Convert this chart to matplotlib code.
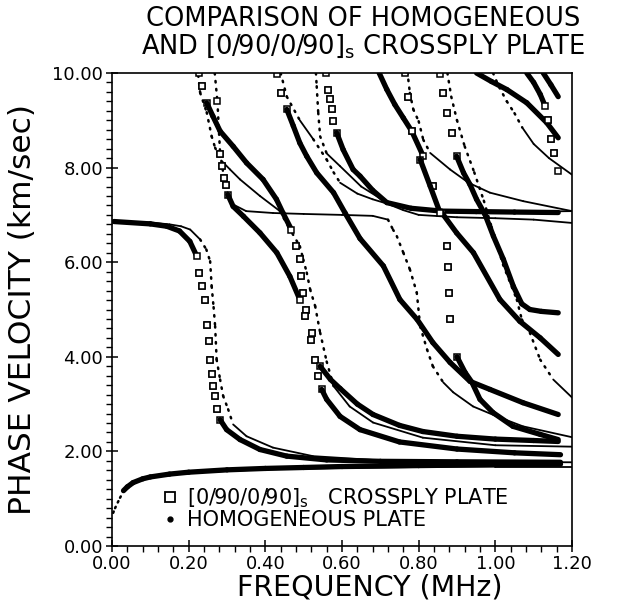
import matplotlib
matplotlib.use("Agg")
import matplotlib.pyplot as plt
from matplotlib.lines import Line2D
from matplotlib.ticker import MultipleLocator, FormatStrFormatter

# [0/90/0/90]s crossply plate (thick curves)
cp1_f = [0.03, 0.04, 0.055, 0.08, 0.1, 0.15, 0.2, 0.3, 0.4, 0.5, 0.6, 0.8, 1.0, 1.17]
cp1_v = [1.17, 1.25, 1.34, 1.42, 1.46, 1.52, 1.56, 1.61, 1.64, 1.66, 1.68, 1.70, 1.72, 1.73]
cp2_f = [0.005, 0.1, 0.143, 0.176, 0.203, 0.221, 0.228, 0.234, 0.243, 0.249, 0.253, 0.256, 0.26,
         0.264, 0.269, 0.273, 0.282, 0.299, 0.334, 0.386, 0.456, 0.56, 0.7, 0.9, 1.17]
cp2_v = [6.86, 6.81, 6.76, 6.66, 6.44, 6.13, 5.78, 5.49, 5.2, 4.68, 4.33, 3.94, 3.63,
         3.38, 3.17, 2.89, 2.67, 2.46, 2.25, 2.04, 1.90, 1.82, 1.79, 1.78, 1.77]
cp3_f = [0.228, 0.234, 0.247, 0.263, 0.282, 0.316, 0.351, 0.394, 0.429, 0.446, 0.468, 0.481, 0.49,
         0.494, 0.499, 0.507, 0.521, 0.53, 0.538, 0.547, 0.56, 0.595, 0.647, 0.75, 0.9, 1.05, 1.17]
cp3_v = [10.0, 9.72, 9.37, 9.09, 8.77, 8.45, 8.10, 7.75, 7.33, 7.04, 6.69, 6.34, 6.06,
         5.70, 5.35, 5.0, 4.51, 3.94, 3.59, 3.31, 3.10, 2.74, 2.46, 2.2, 2.05, 1.97, 1.93]
cp4_f = [0.275, 0.282, 0.286, 0.292, 0.297, 0.302, 0.316, 0.343, 0.386, 0.43, 0.464, 0.49, 0.504,
         0.52, 0.543, 0.57, 0.595, 0.64, 0.681, 0.75, 0.811, 0.9, 1.0, 1.1, 1.164]
cp4_v = [9.4, 8.28, 8.03, 7.78, 7.64, 7.43, 7.18, 6.97, 6.62, 6.2, 5.7, 5.21, 4.86,
         4.35, 3.80, 3.52, 3.33, 3.0, 2.78, 2.55, 2.42, 2.32, 2.26, 2.23, 2.21]
cp5_f = [0.43, 0.442, 0.456, 0.473, 0.49, 0.508, 0.534, 0.578, 0.608, 0.647, 0.708, 0.751,
         0.796, 0.837, 0.882, 0.934, 0.986, 1.072, 1.164]
cp5_v = [9.97, 9.58, 9.23, 8.88, 8.52, 8.24, 7.89, 7.47, 7.04, 6.5, 5.92, 5.21,
         4.79, 4.30, 3.88, 3.48, 3.31, 3.03, 2.78]
cp6_f = [0.558, 0.564, 0.569, 0.573, 0.577, 0.586, 0.603, 0.629, 0.647, 0.68, 0.717, 0.78,
         0.86, 0.95, 1.05, 1.164]
cp6_v = [10.0, 9.65, 9.44, 9.23, 8.98, 8.74, 8.38, 7.96, 7.82, 7.52, 7.26, 7.14,
         7.08, 7.07, 7.06, 7.05]
cp7_f = [0.697, 0.717, 0.738, 0.76, 0.782, 0.812, 0.838, 0.86, 0.899, 0.943, 1.012, 1.064,
         1.117, 1.164]
cp7_v = [10.0, 9.65, 9.33, 9.05, 8.77, 8.24, 7.61, 7.05, 6.62, 6.2, 5.21, 4.75, 4.4, 4.05]
cp8_f = [0.765, 0.772, 0.782, 0.804, 0.83, 0.856, 0.873, 0.876, 0.879, 0.882, 0.9, 0.921, 0.939,
         0.96, 0.994, 1.046, 1.117, 1.164]
cp8_v = [10.0, 9.5, 8.77, 8.17, 7.61, 7.04, 6.34, 5.9, 5.35, 4.8, 4.0, 3.67, 3.46,
         3.1, 2.82, 2.53, 2.36, 2.25]
cp9_f = [0.856, 0.864, 0.873, 0.886, 0.899, 0.917, 0.934, 0.951, 0.973, 0.995, 1.021, 1.047,
         1.069, 1.09, 1.12, 1.164]
cp9_v = [9.97, 9.58, 9.16, 8.74, 8.24, 7.89, 7.64, 7.33, 7.01, 6.55, 6.06, 5.49,
         5.12, 5.0, 4.96, 4.93]
cp10_f = [0.951, 0.99, 1.03, 1.082, 1.134, 1.164]
cp10_v = [10.0, 9.82, 9.65, 9.37, 8.95, 8.63]
cp11_f = [1.082, 1.1, 1.117, 1.13, 1.138, 1.145, 1.152, 1.164]
cp11_v = [10.0, 9.8, 9.55, 9.3, 9.0, 8.6, 8.3, 7.92]
cp12_f = [1.125, 1.145, 1.164]
cp12_v = [10.0, 9.75, 9.5]

# homogeneous plate (thin curves)
h1_f = [0.003, 0.008, 0.015, 0.021, 0.029, 0.04, 0.055, 0.1, 0.2, 0.4, 0.6, 0.8, 1.0, 1.2]
h1_v = [0.7, 0.8, 0.92, 1.02, 1.14, 1.25, 1.33, 1.45, 1.55, 1.62, 1.65, 1.67, 1.68, 1.68]
h2_f = [0.005, 0.1, 0.15, 0.18, 0.204, 0.23, 0.246, 0.256, 0.26, 0.265, 0.269, 0.273, 0.282,
        0.29, 0.303, 0.316, 0.351, 0.42, 0.524, 0.7, 0.9, 1.2]
h2_v = [6.86, 6.84, 6.8, 6.76, 6.69, 6.48, 6.27, 6.02, 5.49, 5.05, 4.65, 3.94, 3.52,
        3.17, 2.89, 2.57, 2.32, 2.08, 1.90, 1.81, 1.78, 1.77]
h3_f = [0.225, 0.23, 0.247, 0.26, 0.269, 0.285, 0.308, 0.334, 0.386, 0.438, 0.46, 0.49, 0.499,
        0.508, 0.517, 0.53, 0.543, 0.56, 0.578, 0.62, 0.681, 0.811, 1.0, 1.2]
h3_v = [9.95, 9.58, 9.17, 8.66, 8.42, 8.15, 7.96, 7.75, 7.40, 7.08, 6.75, 6.34, 6.06,
        5.78, 5.42, 5.07, 4.51, 3.9, 3.38, 2.95, 2.61, 2.29, 2.13, 2.10]
h4_f = [0.268, 0.275, 0.282, 0.292, 0.302, 0.316, 0.35, 0.42, 0.5, 0.6, 0.68, 0.72, 0.733,
        0.743, 0.76, 0.777, 0.795, 0.804, 0.822, 0.837, 0.864, 0.89, 0.942, 1.004, 1.072, 1.2]
h4_v = [10.0, 9.4, 8.3, 7.8, 7.45, 7.22, 7.08, 7.04, 7.02, 7.0, 6.98, 6.9, 6.69,
        6.55, 6.2, 5.85, 5.36, 4.64, 4.15, 3.8, 3.46, 3.25, 2.95, 2.74, 2.53, 2.3]
h5_f = [0.44, 0.456, 0.49, 0.525, 0.56, 0.578, 0.595, 0.64, 0.68, 0.717, 0.76, 0.8, 0.9, 1.0,
        1.1, 1.2]
h5_v = [10.0, 9.5, 9.0, 8.6, 8.17, 7.9, 7.68, 7.45, 7.33, 7.24, 7.1, 7.0, 6.95, 6.93,
        6.9, 6.83]
h6_f = [0.532, 0.534, 0.538, 0.543, 0.56, 0.595, 0.65, 0.717, 0.8, 0.9, 1.0, 1.1, 1.2]
h6_v = [10.0, 9.72, 9.16, 8.66, 8.3, 8.03, 7.6, 7.26, 7.12, 7.08, 7.07, 7.07, 7.08]
h7_f = [0.77, 0.773, 0.777, 0.786, 0.8, 0.812, 0.83, 0.882, 0.93, 0.986, 1.073, 1.2]
h7_v = [10.0, 9.86, 9.58, 9.23, 8.98, 8.59, 8.31, 7.96, 7.68, 7.47, 7.29, 7.08]
h8_f = [0.875, 0.885, 0.9, 0.92, 0.945, 0.97, 0.99, 1.02, 1.056, 1.069, 1.09, 1.117, 1.151, 1.2]
h8_v = [10.0, 9.5, 9.0, 8.45, 7.9, 7.3, 6.75, 5.95, 5.21, 4.79, 4.51, 3.94, 3.52, 3.14]
h9_f = [0.994, 1.01, 1.03, 1.05, 1.07, 1.1, 1.14, 1.2]
h9_v = [10.0, 9.7, 9.4, 9.15, 8.85, 8.5, 8.2, 7.85]

crossply = [(cp1_f, cp1_v), (cp2_f, cp2_v), (cp3_f, cp3_v), (cp4_f, cp4_v), (cp5_f, cp5_v),
            (cp6_f, cp6_v), (cp7_f, cp7_v), (cp8_f, cp8_v), (cp9_f, cp9_v), (cp10_f, cp10_v),
            (cp11_f, cp11_v), (cp12_f, cp12_v)]
homog = [(h1_f, h1_v), (h2_f, h2_v), (h3_f, h3_v), (h4_f, h4_v), (h5_f, h5_v),
         (h6_f, h6_v), (h7_f, h7_v), (h8_f, h8_v), (h9_f, h9_v)]


def draw(ax, f, v, steep, solid_kw, steep_kw):
    # shallow stretches look like solid lines, steep ones show the separate marks
    for i in range(len(f) - 1):
        slope = abs((v[i + 1] - v[i]) / (f[i + 1] - f[i]))
        kw = steep_kw if slope > steep else solid_kw
        ax.plot(f[i:i + 2], v[i:i + 2], **kw)


fig = plt.figure(figsize=(6.2, 6.03), dpi=100)
ax = fig.add_axes([112 / 620, 57 / 603, 460 / 620, 473 / 603])

h_solid = dict(color="black", lw=1.3, solid_capstyle="round")
h_dots = dict(color="black", lw=1.8, linestyle=(0, (0.6, 2.6)), dash_capstyle="round")
c_solid = dict(color="black", lw=3.8, solid_capstyle="round")
c_squares = dict(color="black", ls="none", marker="s", ms=4.0, mfc="white", mec="black", mew=1.1)

for f, v in homog:
    draw(ax, f, v, 12, h_solid, h_dots)
for f, v in crossply:
    draw(ax, f, v, 22, c_solid, c_squares)

ax.set_xlim(0, 1.2)
ax.set_ylim(0, 10)
ax.xaxis.set_major_locator(MultipleLocator(0.2))
ax.xaxis.set_minor_locator(MultipleLocator(0.04))
ax.yaxis.set_major_locator(MultipleLocator(2))
ax.yaxis.set_minor_locator(MultipleLocator(0.2))
ax.xaxis.set_major_formatter(FormatStrFormatter("%.2f"))
ax.yaxis.set_major_formatter(FormatStrFormatter("%.2f"))
ax.tick_params(which="major", direction="inout", length=9, width=1.1, labelsize=13, pad=2)
ax.tick_params(which="minor", direction="out", length=4, width=1.0)
for s in ax.spines.values():
    s.set_linewidth(1.2)

ax.set_xlabel("FREQUENCY (MHz)", fontsize=20.5, va="center")
ax.xaxis.set_label_coords(0.56, -0.087)
ax.set_ylabel("PHASE VELOCITY (km/sec)", fontsize=22.5, labelpad=11)

fig.text(0.585, 0.968, "COMPARISON OF HOMOGENEOUS", ha="center", va="center", fontsize=18.5)
fig.text(0.585, 0.924, r"AND [0/90/0/90]$_\mathregular{s}$ CROSSPLY PLATE",
         ha="center", va="center", fontsize=18.5)

handles = [Line2D([], [], ls="none", marker="s", mfc="none", mec="black", ms=6.5, mew=1.3),
           Line2D([], [], ls="none", marker="o", mfc="black", mec="black", ms=3.5)]
labels = [r"[0/90/0/90]$_\mathregular{s}$   CROSSPLY PLATE", "HOMOGENEOUS PLATE"]
ax.legend(handles, labels, loc="lower left", bbox_to_anchor=(0.08, 0.012), frameon=False,
          fontsize=15, handletextpad=0.35, labelspacing=0.0, borderpad=0, handlelength=1)

fig.savefig("out.png", dpi=100)
